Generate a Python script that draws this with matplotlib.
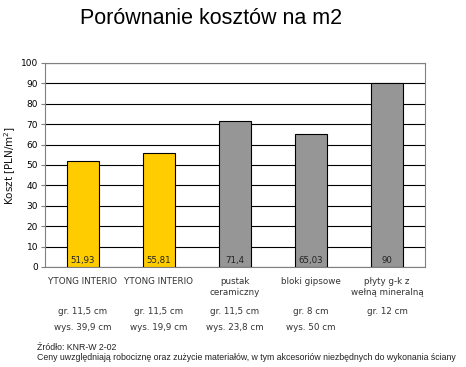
import numpy as np
import matplotlib.pyplot as plt

categories = ["YTONG INTERIO", "YTONG INTERIO", "pustak\nceramiczny", "bloki gipsowe", "płyty g-k z\nwełną mineralną"]
costs = [51.93, 55.81, 71.4, 65.03, 90]
cost_labels = ["51,93", "55,81", "71,4", "65,03", "90"]
thickness = ["gr. 11,5 cm", "gr. 11,5 cm", "gr. 11,5 cm", "gr. 8 cm", "gr. 12 cm"]
height = ["wys. 39,9 cm", "wys. 19,9 cm", "wys. 23,8 cm", "wys. 50 cm", ""]
colors = ["#FFCC00", "#FFCC00", "#969696", "#969696", "#969696"]

W, H = 466, 367
fig = plt.figure(figsize=(W / 100, H / 100), dpi=100)
ax = fig.add_axes([45 / W, 1 - 267 / H, 380 / W, 204 / H])

x = np.arange(len(costs))
ax.bar(x, costs, width=0.41, color=colors, edgecolor="black", linewidth=0.8, zorder=3)
for xi, lab in zip(x, cost_labels):
    ax.text(xi, 1.2, lab, ha="center", va="bottom", fontsize=6.2, color="#222222", zorder=4)

ax.set_xlim(-0.5, len(costs) - 0.5)
ax.set_ylim(0, 100)
ax.set_yticks(np.arange(0, 101, 10))
ax.yaxis.grid(True, color="black", linewidth=0.8, zorder=0)
ax.tick_params(axis="y", labelsize=6.5, length=3, width=0.8, color="#808080", pad=2)
ax.tick_params(axis="x", length=0, labelbottom=False)
for s in ["top", "right", "left", "bottom"]:
    ax.spines[s].set_color("#808080")
    ax.spines[s].set_linewidth(0.8)

ax.set_ylabel("Koszt [PLN/m$^2$]", fontsize=7.5, color="#111111")
ax.yaxis.set_label_coords(-27 / 380, 0.5)

# category texts under the axis
for xi, cat, th, hg in zip(x, categories, thickness, height):
    ax.text(xi, -5, cat, ha="center", va="top", fontsize=6.3, color="#333333", linespacing=1.3)
    ax.text(xi, -19.5, th, ha="center", va="top", fontsize=6.3, color="#333333")
    ax.text(xi, -27.3, hg, ha="center", va="top", fontsize=6.3, color="#333333")

fig.text(211 / W, 1 - 18 / H, "Porównanie kosztów na m2", ha="center", va="center",
         fontsize=15.5, family="Liberation Sans")
fig.text(37 / W, 1 - 347 / H, "Źródło: KNR-W 2-02", ha="left", va="center",
         fontsize=6.3, family="Liberation Sans", color="#222222")
fig.text(37 / W, 1 - 358 / H,
         "Ceny uwzględniają robociznę oraz zużycie materiałów, w tym akcesoriów niezbędnych do wykonania ściany",
         ha="left", va="center", fontsize=6.3, family="Liberation Sans", color="#222222")

fig.savefig("out.png", dpi=100)
